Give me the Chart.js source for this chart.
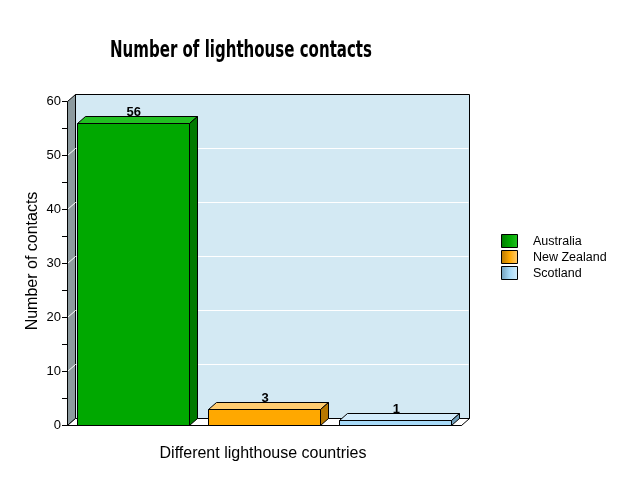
<!DOCTYPE html>
<html>
<head>
<meta charset="utf-8">
<script src="https://cdn.jsdelivr.net/npm/chart.js@4"></script>
<style>
  body { margin: 0; background: #fff; }
  #wrap { width: 630px; height: 495px; }
</style>
</head>
<body>
<div id="wrap"><canvas id="myChart" width="630" height="495"></canvas></div>
<script>
"use strict";
// data
const countries = ["Australia", "New Zealand", "Scotland"];
const contacts = [56, 3, 1];
const frontColors = ["#00A800", "#FFA800", "#A6D9F7"];
const topColors = ["#22C022", "#FFCC70", "#D2ECFB"];
const sideColors = ["#007A00", "#B87800", "#72A0BB"];
const yTicks = [0, 10, 20, 30, 40, 50, 60];

const DX = 8, DY = 7; // 3d depth

function poly(ctx, pts, fill) {
  ctx.beginPath();
  ctx.moveTo(pts[0][0], pts[0][1]);
  for (let i = 1; i < pts.length; i++) ctx.lineTo(pts[i][0], pts[i][1]);
  ctx.closePath();
  if (fill) { ctx.fillStyle = fill; ctx.fill(); }
  ctx.strokeStyle = "#000";
  ctx.lineWidth = 1;
  ctx.stroke();
}

// walls, floor and grid behind the bars
const box3d = {
  id: "box3d",
  beforeDatasetsDraw(chart) {
    const ctx = chart.ctx;
    const a = chart.chartArea;
    const y = chart.scales.y;
    const L = a.left + 0.5, R = a.right + 0.5, T = y.getPixelForValue(60) + 0.5, B = a.bottom + 0.5;
    ctx.save();
    // back wall
    poly(ctx, [[L + DX, T - DY], [R + DX, T - DY], [R + DX, B - DY], [L + DX, B - DY]], "#D3E9F3");
    // left wall
    poly(ctx, [[L, T], [L + DX, T - DY], [L + DX, B - DY], [L, B]], "#8C9A9E");
    // floor
    poly(ctx, [[L, B], [L + DX, B - DY], [R + DX, B - DY], [R, B]], "#FFFFFF");
    // gridlines
    ctx.strokeStyle = "#FFFFFF";
    ctx.lineWidth = 1;
    yTicks.forEach(v => {
      if (v === 0 || v === 60) return;
      const py = Math.round(y.getPixelForValue(v)) + 0.5;
      ctx.beginPath();
      ctx.moveTo(L, py);
      ctx.lineTo(L + DX, py - DY);
      ctx.lineTo(R + DX - 1, py - DY);
      ctx.stroke();
    });
    // axis line
    ctx.strokeStyle = "#000";
    ctx.beginPath();
    ctx.moveTo(L, T);
    ctx.lineTo(L, B);
    ctx.lineTo(R, B);
    ctx.stroke();
    ctx.restore();
  },
  afterDatasetsDraw(chart) {
    const ctx = chart.ctx;
    const meta = chart.getDatasetMeta(0);
    ctx.save();
    meta.data.forEach((bar, i) => {
      const x0 = Math.round(bar.x - bar.width / 2) + 0.5;
      const x1 = Math.round(bar.x + bar.width / 2) + 0.5;
      const top = Math.round(bar.y) + 0.5;
      const base = Math.round(bar.base) + 0.5;
      poly(ctx, [[x0, top], [x1, top], [x1, base], [x0, base]], frontColors[i]);
      poly(ctx, [[x0, top], [x0 + DX, top - DY], [x1 + DX, top - DY], [x1, top]], topColors[i]);
      poly(ctx, [[x1, top], [x1 + DX, top - DY], [x1 + DX, base - DY], [x1, base]], sideColors[i]);
      // value label
      ctx.fillStyle = "#000";
      ctx.font = "bold 13px Arial, 'Liberation Sans', sans-serif";
      ctx.textAlign = "center";
      ctx.textBaseline = "alphabetic";
      ctx.fillText(String(contacts[i]), bar.x + DX / 2 - 3, top - DY - 1);
    });

    // title, squeezed to look like a condensed face
    ctx.fillStyle = "#000";
    ctx.textAlign = "center";
    ctx.font = "bold 23px 'DejaVu Sans', sans-serif";
    const title = "Number of lighthouse contacts";
    const tw = ctx.measureText(title).width;
    ctx.save();
    ctx.translate(241, 57);
    ctx.scale(262 / tw, 1);
    ctx.fillText(title, 0, 0);
    ctx.restore();

    // axis titles
    ctx.font = "16px Arial, 'Liberation Sans', sans-serif";
    ctx.fillText("Different lighthouse countries", 263, 458);
    ctx.save();
    ctx.translate(37, 261);
    ctx.rotate(-Math.PI / 2);
    ctx.fillText("Number of contacts", 0, 0);
    ctx.restore();

    // legend
    ctx.font = "12.5px Arial, 'Liberation Sans', sans-serif";
    ctx.textAlign = "left";
    ctx.textBaseline = "middle";
    countries.forEach((name, i) => {
      const bx = 501.5, by = 234.5 + i * 16;
      const g = ctx.createLinearGradient(bx, 0, bx + 16, 0);
      g.addColorStop(0, sideColors[i]);
      g.addColorStop(0.5, frontColors[i]);
      g.addColorStop(1, topColors[i]);
      poly(ctx, [[bx, by], [bx + 16, by], [bx + 16, by + 13], [bx, by + 13]], g);
      ctx.fillStyle = "#000";
      ctx.fillText(name, 533, by + 7);
    });
    ctx.restore();
  }
};

const myChart = new Chart(document.getElementById("myChart"), {
  type: "bar",
  data: {
    labels: countries,
    datasets: [{
      data: contacts,
      backgroundColor: "rgba(0,0,0,0)", // faces are drawn by the plugin
      borderWidth: 0,
      barPercentage: 0.855,
      categoryPercentage: 1
    }]
  },
  options: {
    responsive: false,
    animation: false,
    layout: { padding: { left: 0, top: 101, right: 169, bottom: 0 } },
    plugins: {
      legend: { display: false },
      tooltip: { enabled: false }
    },
    scales: {
      x: {
        ticks: { display: false },
        grid: { display: false },
        border: { display: false },
        afterFit(scale) { scale.height = 70; }
      },
      y: {
        min: 0,
        max: 60,
        ticks: {
          stepSize: 5,
          color: "#000",
          padding: 1,
          font: { size: 13, family: "Arial, 'Liberation Sans', sans-serif" },
          callback: v => (v % 10 === 0 ? v : "")
        },
        grid: { drawOnChartArea: false, color: "#000", tickLength: 5 },
        border: { display: false },
        afterFit(scale) { scale.width = 67; }
      }
    }
  },
  plugins: [box3d]
});
</script>
</body>
</html>
